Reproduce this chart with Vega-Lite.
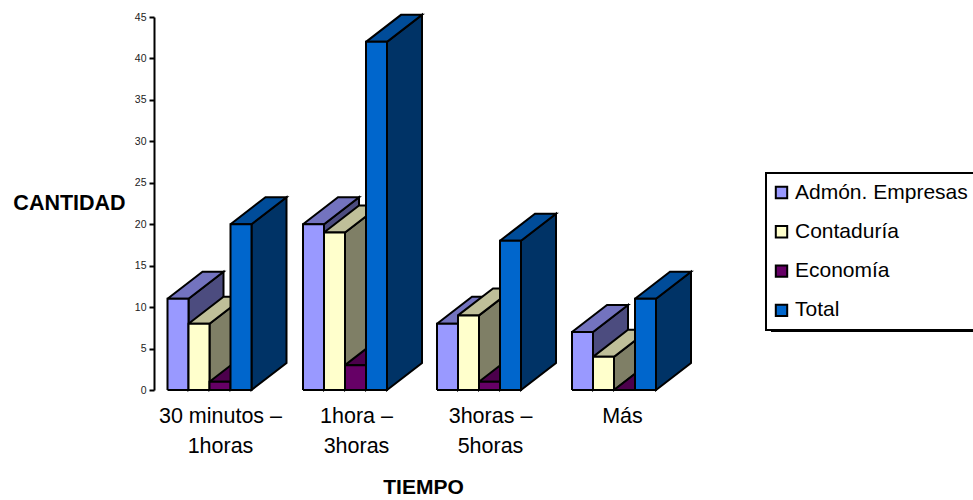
{
"$schema":"https://vega.github.io/schema/vega-lite/v6.json",
"width":819,"height":373,
"autosize":{"type":"none"},
"padding":{"left":154,"top":17,"right":0,"bottom":110},
"background":"white",
"config":{"view":{"stroke":null},"font":"Liberation Sans","legend":{"strokeWidth":2}},
"layer":[
{"data":{"values":[{"elemento":"sombra de leyenda"}]},
 "mark":{"type":"rect","color":"black","clip":false},
 "encoding":{
  "x":{"datum":771,"type":"quantitative","scale":{"domain":[154,973],"nice":false,"zero":false},
  "axis":{"values":[220,356,490,622],"domain":false,"ticks":false,"grid":false,"labelPadding":15.5,"labelFontSize":21.5,"labelColor":"black","labelLineHeight":30,"labelOverlap":false,"labelFlush":false,"labelBaseline":"top",
   "labelExpr":"datum.value<300?['30 minutos –','1horas']:datum.value<400?['1hora –','3horas']:datum.value<500?['3horas –','5horas']:'Más'",
   "title":"TIEMPO","titleFontSize":21,"titleFontWeight":"bold","titleColor":"black","titleX":269,"titleY":97,"titleAlign":"center","titleBaseline":"middle"}},
  "x2":{"datum":980},
  "y":{"datum":7.9,"type":"quantitative","scale":{"domain":[0,45],"nice":false},
  "axis":{"values":[0,5,10,15,20,25,30,35,40,45],"grid":false,"domainColor":"black","domainWidth":2,"tickColor":"black","tickWidth":2,"tickSize":5,"labelFontSize":10.5,"labelColor":"#222222","labelPadding":3,
   "title":"CANTIDAD","titleAngle":0,"titleFontSize":21.5,"titleFontWeight":"bold","titleColor":"black","titleX":-85,"titleY":186,"titleAlign":"center","titleBaseline":"middle"}},
  "y2":{"datum":7.0}
 }},
{"data":{"values":[
{"tiempo":"30 minutos – 1horas","carrera":"Admón. Empresas","cantidad":11},
{"tiempo":"30 minutos – 1horas","carrera":"Contaduría","cantidad":8},
{"tiempo":"30 minutos – 1horas","carrera":"Economía","cantidad":1},
{"tiempo":"30 minutos – 1horas","carrera":"Total","cantidad":20},
{"tiempo":"1hora – 3horas","carrera":"Admón. Empresas","cantidad":20},
{"tiempo":"1hora – 3horas","carrera":"Contaduría","cantidad":19},
{"tiempo":"1hora – 3horas","carrera":"Economía","cantidad":3},
{"tiempo":"1hora – 3horas","carrera":"Total","cantidad":42},
{"tiempo":"3horas – 5horas","carrera":"Admón. Empresas","cantidad":8},
{"tiempo":"3horas – 5horas","carrera":"Contaduría","cantidad":9},
{"tiempo":"3horas – 5horas","carrera":"Economía","cantidad":1},
{"tiempo":"3horas – 5horas","carrera":"Total","cantidad":18},
{"tiempo":"Más","carrera":"Admón. Empresas","cantidad":7},
{"tiempo":"Más","carrera":"Contaduría","cantidad":4},
{"tiempo":"Más","carrera":"Economía","cantidad":0},
{"tiempo":"Más","carrera":"Total","cantidad":11}
]},
"transform":[
{"calculate":"indexof(['30 minutos – 1horas','1hora – 3horas','3horas – 5horas','Más'],datum.tiempo)","as":"g"},
{"calculate":"indexof(['Admón. Empresas','Contaduría','Economía','Total'],datum.carrera)","as":"s"},
{"calculate":"[209.5,345,479,614][datum.g]+(datum.s-2)*21","as":"xl"},
{"calculate":"datum.xl+21","as":"xr"},
{"calculate":"[{f:'lado',o:0,x:datum.xr,y:datum.cantidad},{f:'lado',o:1,x:datum.xr+35,y:datum.cantidad+3.26},{f:'lado',o:2,x:datum.xr+35,y:3.26},{f:'lado',o:3,x:datum.xr,y:0},{f:'lado',o:4,x:datum.xr,y:datum.cantidad},{f:'arriba',o:5,x:datum.xl,y:datum.cantidad},{f:'arriba',o:6,x:datum.xl+35,y:datum.cantidad+3.26},{f:'arriba',o:7,x:datum.xr+35,y:datum.cantidad+3.26},{f:'arriba',o:8,x:datum.xr,y:datum.cantidad},{f:'arriba',o:9,x:datum.xl,y:datum.cantidad},{f:'frente',o:10,x:datum.xl,y:0},{f:'frente',o:11,x:datum.xl,y:datum.cantidad},{f:'frente',o:12,x:datum.xr,y:datum.cantidad},{f:'frente',o:13,x:datum.xr,y:0},{f:'frente',o:14,x:datum.xl,y:0}]","as":"pts"},
{"flatten":["pts"]},
{"calculate":"datum.pts.x","as":"px"},
{"calculate":"datum.pts.y","as":"py"},
{"calculate":"datum.pts.o","as":"po"},
{"calculate":"datum.pts.f=='frente'?datum.carrera:datum.carrera+'|'+datum.pts.f","as":"cara"},
{"calculate":"datum.g+'-'+datum.s+'-'+datum.pts.f","as":"id"}
],
"mark":{"type":"line","stroke":"black","strokeWidth":2,"strokeJoin":"miter","clip":false},
"encoding":{
 "x":{"field":"px","type":"quantitative","scale":{"domain":[154,973],"nice":false,"zero":false},
  "axis":{"values":[220,356,490,622],"domain":false,"ticks":false,"grid":false,"labelPadding":15.5,"labelFontSize":21.5,"labelColor":"black","labelLineHeight":30,"labelOverlap":false,"labelFlush":false,"labelBaseline":"top",
   "labelExpr":"datum.value<300?['30 minutos –','1horas']:datum.value<400?['1hora –','3horas']:datum.value<500?['3horas –','5horas']:'Más'",
   "title":"TIEMPO","titleFontSize":21,"titleFontWeight":"bold","titleColor":"black","titleX":269,"titleY":97,"titleAlign":"center","titleBaseline":"middle"}},
 "y":{"field":"py","type":"quantitative","scale":{"domain":[0,45],"nice":false},
  "axis":{"values":[0,5,10,15,20,25,30,35,40,45],"grid":false,"domainColor":"black","domainWidth":2,"tickColor":"black","tickWidth":2,"tickSize":5,"labelFontSize":10.5,"labelColor":"#222222","labelPadding":3,
   "title":"CANTIDAD","titleAngle":0,"titleFontSize":21.5,"titleFontWeight":"bold","titleColor":"black","titleX":-85,"titleY":186,"titleAlign":"center","titleBaseline":"middle"}},
 "order":{"field":"po","type":"quantitative"},
 "detail":{"field":"id"},
 "fill":{"field":"cara","type":"nominal",
  "scale":{"domain":["Admón. Empresas","Contaduría","Economía","Total","Admón. Empresas|lado","Contaduría|lado","Economía|lado","Total|lado","Admón. Empresas|arriba","Contaduría|arriba","Economía|arriba","Total|arriba"],
   "range":["#9999FF","#FFFFCC","#660066","#0066CC","#4C4C7F","#7F7F66","#330033","#003366","#7373BF","#BFBF99","#4C004C","#004C99"]},
  "legend":{"values":["Admón. Empresas","Contaduría","Economía","Total"],"title":null,"orient":"none","legendX":612,"legendY":156,"fillColor":"white","strokeColor":"black","cornerRadius":0,"padding":9,"symbolType":"square","symbolSize":130,"symbolOffset":-4,"symbolStrokeColor":"black","symbolStrokeWidth":2,"symbolOpacity":1,"labelFontSize":21,"labelColor":"black","labelOffset":3,"rowPadding":17.3,"labelLimit":300}}
}}
],
"resolve":{"scale":{"x":"shared","y":"shared"}}
}
